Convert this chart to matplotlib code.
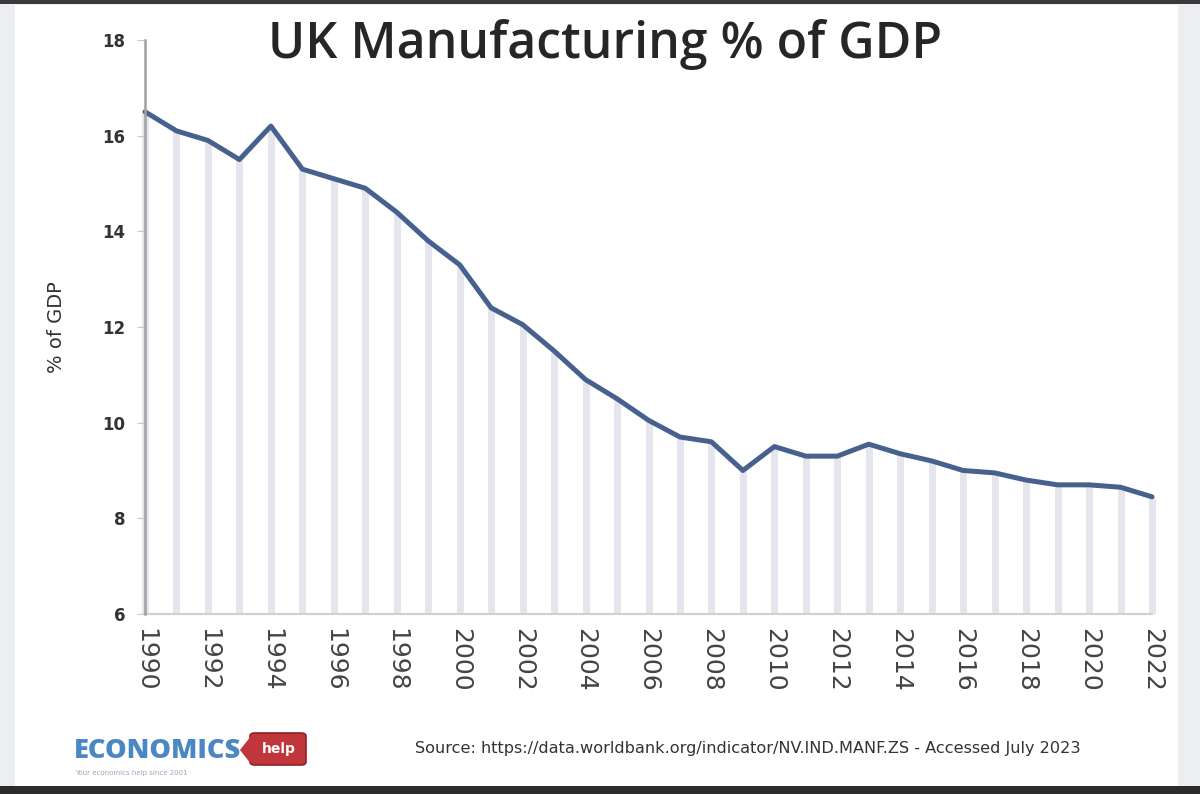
import matplotlib
matplotlib.use("Agg")
import matplotlib.pyplot as plt
from matplotlib.patches import Rectangle, FancyBboxPatch, Polygon

years = list(range(1990, 2023))
manuf_pct = [16.5, 16.1, 15.9, 15.5, 16.2, 15.3, 15.1, 14.9, 14.4, 13.8,
             13.3, 12.4, 12.05, 11.5, 10.9, 10.5, 10.05, 9.7, 9.6, 9.0,
             9.5, 9.3, 9.3, 9.55, 9.35, 9.2, 9.0, 8.95, 8.8, 8.7,
             8.7, 8.65, 8.45]
xtick_years = list(range(1990, 2023, 2))
ytick_vals = [6, 8, 10, 12, 14, 16, 18]

title = "UK Manufacturing % of GDP"
ylabel = "% of GDP"
source = "Source: https://data.worldbank.org/indicator/NV.IND.MANF.ZS - Accessed July 2023"

W, H = 1200, 794
fig = plt.figure(figsize=(W / 100, H / 100), dpi=100, facecolor="#eceef2")

def fx(px):
    return px / W

def fy(py):
    return 1 - py / H

# page background / frame
fig.patches.append(Rectangle((fx(15), fy(786)), fx(1178) - fx(15), fy(5) - fy(786),
                             transform=fig.transFigure, facecolor="white", edgecolor="none", zorder=-5))
fig.patches.append(Rectangle((0, fy(4)), 1, 1 - fy(4), transform=fig.transFigure,
                             facecolor="#3a3a3a", edgecolor="none", zorder=-5))
fig.patches.append(Rectangle((0, 0), 1, fy(786), transform=fig.transFigure,
                             facecolor="#2c2c2c", edgecolor="none", zorder=-5))

ax = fig.add_axes([fx(145), fy(614), fx(1152) - fx(145), fy(40) - fy(614)])
ax.set_zorder(2)
ax.set_facecolor("none")
ax.set_xlim(1990, 2022)
ax.set_ylim(6, 18)

ax.vlines(years, 6, manuf_pct, color="#e5e6ed", lw=5, zorder=1, clip_on=False)
ax.plot(years, manuf_pct, color="#47618f", lw=3.6, solid_joinstyle="round",
        solid_capstyle="round", zorder=3, clip_on=False)

for s in ["top", "right"]:
    ax.spines[s].set_visible(False)
ax.spines["left"].set_color("#a0a0a4")
ax.spines["left"].set_linewidth(1.8)
ax.spines["left"].set_zorder(4)
ax.spines["bottom"].set_color("#cfcfd4")
ax.spines["bottom"].set_linewidth(1.5)

ax.set_yticks(ytick_vals)
ax.set_yticklabels([str(v) for v in ytick_vals], fontsize=12, fontweight="bold",
                   color="#333333", family="DejaVu Sans")
ax.tick_params(axis="y", length=6, color="#c8c8cc", pad=8)
ax.set_xticks(xtick_years)
ax.set_xticklabels([str(v) for v in xtick_years], rotation=-90, fontsize=18,
                   color="#444444", family="DejaVu Sans")
ax.tick_params(axis="x", length=0, pad=10)

fig.text(fx(57), fy(327), ylabel, rotation=90, ha="center", va="center",
         fontsize=14, color="#333333", family="DejaVu Sans")

fig.text(fx(605), fy(44), title, ha="center", va="center", fontsize=36,
         fontweight="semibold", color="#262626", family="Open Sans")

# logo
fig.text(fx(74), fy(751), "ECONOMICS", ha="left", va="center", fontsize=19.5,
         fontweight="heavy", color="#4a87c4", family="Open Sans")
tag = FancyBboxPatch((fx(250), fy(765)), fx(306) - fx(250), fy(733) - fy(765),
                     boxstyle="round,pad=0,rounding_size=0.004", transform=fig.transFigure,
                     facecolor="#c0363a", edgecolor="#8e2226", lw=1.2, zorder=2)
fig.patches.append(tag)
fig.patches.append(Polygon([(fx(240), fy(750)), (fx(251), fy(736)), (fx(251), fy(764))],
                           closed=True, transform=fig.transFigure, facecolor="#c0363a",
                           edgecolor="none", zorder=2))
fig.text(fx(279), fy(749), "help", ha="center", va="center", fontsize=10,
         fontweight="bold", color="white", family="DejaVu Sans", zorder=3)
fig.text(fx(75), fy(773), "Your economics help since 2001", ha="left", va="center",
         fontsize=5, color="#9aa8b8", family="DejaVu Sans")

fig.text(fx(415), fy(748), source, ha="left", va="center", fontsize=11.6,
         color="#333333", family="DejaVu Sans")

fig.savefig("out.png", dpi=100, facecolor=fig.get_facecolor())
